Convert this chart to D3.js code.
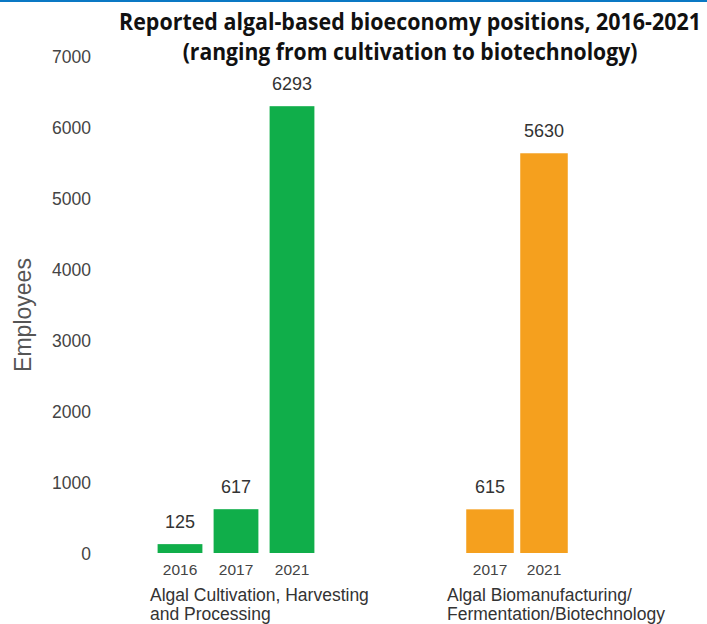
<!DOCTYPE html>
<html>
<head>
<meta charset="utf-8">
<script src="https://cdn.jsdelivr.net/npm/d3@7"></script>
<style>
  body { margin: 0; background: #fff; }
  svg { display: block; }
</style>
</head>
<body>
<svg id="chart" width="707" height="624"></svg>
<script>
'use strict';

// data
var groups = ["Algal Cultivation, Harvesting|and Processing", "Algal Biomanufacturing/|Fermentation/Biotechnology"];
var groupYears = [["2016", "2017", "2021"], ["2017", "2021"]];
var groupValues = [[125, 617, 6293], [615, 5630]];
var groupColors = ["#10ae4a", "#f5a01e"];
var yTicks = [0, 1000, 2000, 3000, 4000, 5000, 6000, 7000];
var titleLines = ["Reported algal-based bioeconomy positions, 2016-2021", "(ranging from cultivation to biotechnology)"];

var svg = d3.select("#chart");
var font = "'Liberation Sans', Arial, sans-serif";

// thin blue rule along the top
svg.append("rect")
  .attr("x", 0).attr("y", 0)
  .attr("width", 707).attr("height", 2)
  .style("fill", "#0a78c4");

var y = d3.scaleLinear().domain([0, 7000]).range([553, 56]);

// y axis, labels only
var yAxis = svg.append("g")
  .attr("transform", "translate(91, 0)")
  .call(d3.axisLeft(y).tickValues(yTicks).tickSize(0).tickPadding(0).tickFormat(d3.format("d")));
yAxis.select(".domain").remove();
yAxis.selectAll("text")
  .attr("dy", ".35em")
  .style("font-family", font)
  .style("font-size", "17.5px")
  .style("fill", "#444");

svg.append("text")
  .attr("transform", "translate(23, 315) rotate(-90)")
  .attr("text-anchor", "middle")
  .attr("dy", ".35em")
  .style("font-family", font)
  .style("font-size", "23px")
  .style("fill", "#555")
  .text("Employees");

// groups along x
var groupCenters = [236, 517];
var steps = [56, 54];
var padIn = [0.2, 0.12];

groups.forEach(function(name, gi) {
  var years = groupYears[gi];
  var half = years.length * steps[gi] / 2;
  var x = d3.scaleBand()
    .domain(years)
    .range([groupCenters[gi] - half, groupCenters[gi] + half])
    .paddingInner(padIn[gi])
    .paddingOuter(padIn[gi] / 2);

  var data = years.map(function(yr, i) { return {year: yr, value: groupValues[gi][i]}; });

  var g = svg.append("g");
  g.selectAll("rect")
    .data(data)
    .enter()
    .append("rect")
    .attr("x", function(d) { return x(d.year); })
    .attr("y", function(d) { return y(d.value); })
    .attr("width", x.bandwidth())
    .attr("height", function(d) { return y(0) - y(d.value); })
    .style("fill", groupColors[gi]);

  g.selectAll(".val")
    .data(data)
    .enter()
    .append("text")
    .attr("class", "val")
    .attr("x", function(d) { return x(d.year) + x.bandwidth() / 2; })
    .attr("y", function(d) { return y(d.value) - 16; })
    .attr("text-anchor", "middle")
    .style("font-family", font)
    .style("font-size", "18px")
    .style("fill", "#333")
    .text(function(d) { return d.value; });

  var xAxis = g.append("g")
    .attr("transform", "translate(0, 560)")
    .call(d3.axisBottom(x).tickSize(0).tickPadding(0));
  xAxis.select(".domain").remove();
  xAxis.selectAll("text")
    .attr("dy", "0.95em")
    .style("font-family", font)
    .style("font-size", "15.5px")
    .style("fill", "#444");

  var lines = name.split("|");
  var left = gi === 0 ? 150 : 447;
  g.selectAll(".cat")
    .data(lines)
    .enter()
    .append("text")
    .attr("class", "cat")
    .attr("x", left)
    .attr("y", function(d, i) { return 601 + i * 19; })
    .style("font-family", font)
    .style("font-size", "17.5px")
    .style("fill", "#333")
    .text(function(d) { return d; });
});

// title: narrow the bold face horizontally to match the condensed original
var titleWidths = [582, 455];
svg.selectAll(".title")
  .data(titleLines)
  .enter()
  .append("text")
  .attr("class", "title")
  .attr("text-anchor", "middle")
  .style("font-family", "'Open Sans', 'Liberation Sans', sans-serif")
  .style("font-weight", "bold")
  .style("font-size", "23px")
  .style("fill", "#111")
  .text(function(d) { return d; })
  .attr("transform", function(d, i) {
    var sx = titleWidths[i] / this.getComputedTextLength();
    return "translate(410," + (30 + i * 30) + ") scale(" + sx + ",1)";
  });
</script>
</body>
</html>
